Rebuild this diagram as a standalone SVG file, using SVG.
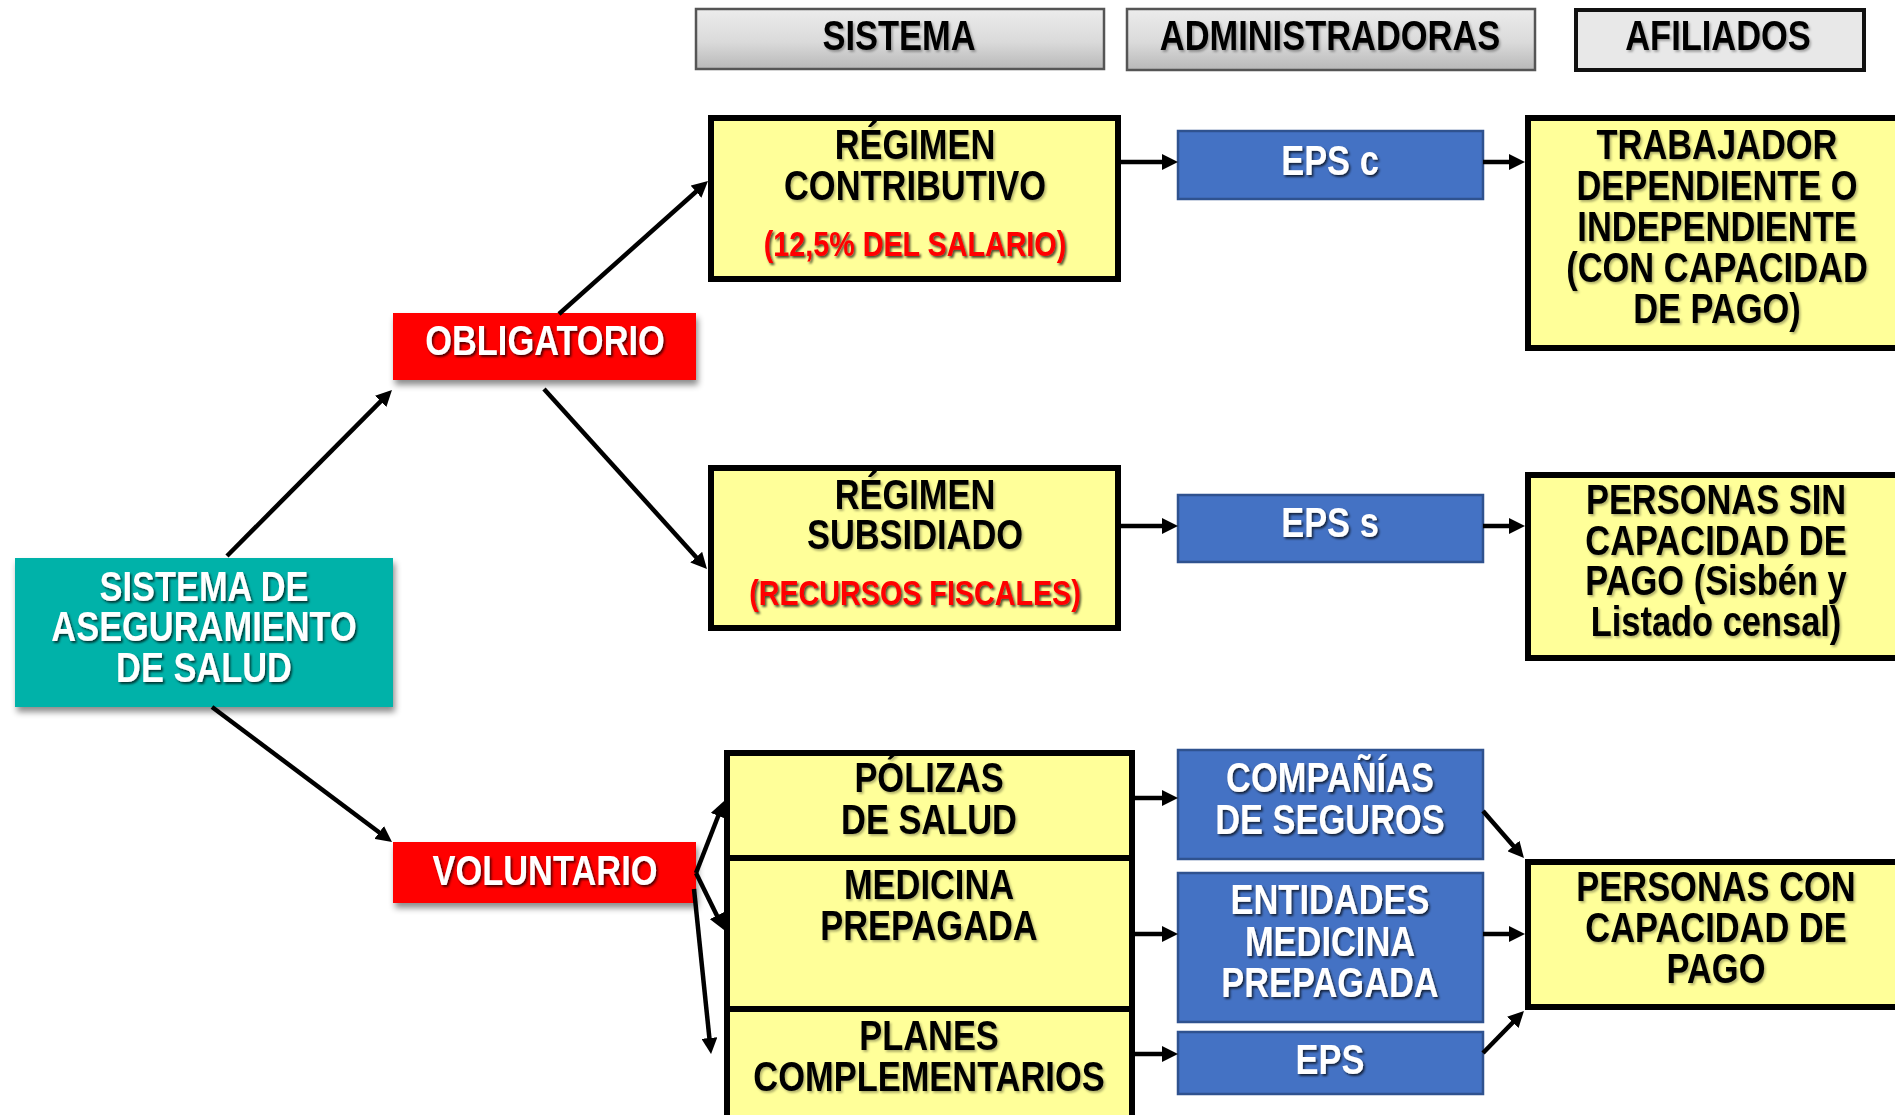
<svg xmlns="http://www.w3.org/2000/svg" width="1895" height="1115" viewBox="0 0 1895 1115">
<defs>
<linearGradient id="hdr" x1="0" y1="0" x2="0" y2="1">
<stop offset="0" stop-color="#ECECEC"/>
<stop offset="0.55" stop-color="#DADADA"/>
<stop offset="1" stop-color="#B8B8B8"/>
</linearGradient>
<filter id="boxsh" x="-10%" y="-10%" width="125%" height="140%">
<feDropShadow dx="2" dy="5" stdDeviation="3" flood-color="#000" flood-opacity="0.45"/>
</filter>
<filter id="tsw" x="-5%" y="-20%" width="115%" height="150%">
<feDropShadow dx="2" dy="2" stdDeviation="1.2" flood-color="#000" flood-opacity="0.7"/>
</filter>
<filter id="tsb" x="-5%" y="-20%" width="115%" height="150%">
<feDropShadow dx="2" dy="2" stdDeviation="1.2" flood-color="#000" flood-opacity="0.3"/>
</filter>
<marker id="ah" viewBox="0 0 16 16" refX="1" refY="8" markerWidth="16" markerHeight="16" markerUnits="userSpaceOnUse" orient="auto">
<path d="M0,0 L16,8 L0,16 z" fill="#000"/>
</marker>
</defs>
<style>
text{font-family:"Liberation Sans",Arial,sans-serif;font-weight:bold;text-anchor:middle;font-size:42px}
.b{fill:#000;filter:url(#tsb)}
.w{fill:#fff;filter:url(#tsw)}
.r{fill:#FF0000;font-size:35px;filter:url(#tsw)}
.hdr{fill:url(#hdr);stroke:#555;stroke-width:2.5}
.afi{fill:#E8E8E8;stroke:#111;stroke-width:4}
.yel{fill:#FFFF99;stroke:#000;stroke-width:6}
.blu{fill:#4472C4;stroke:#2F528F;stroke-width:2.5}
.red{fill:#FF0000;filter:url(#boxsh)}
.teal{fill:#00B2A9;filter:url(#boxsh)}
.con line{stroke:#000;stroke-width:4.5;marker-end:url(#ah)}
</style>
<rect width="1895" height="1115" fill="#fff"/>

<g id="h-sistema">
<rect class="hdr" x="696" y="9" width="408" height="60"/>
<text class="b" transform="matrix(0.82 0 0 1 899 0)"><tspan x="0" y="50">SISTEMA</tspan></text>
</g>
<g id="h-administradoras">
<rect class="hdr" x="1127" y="9" width="408" height="61"/>
<text class="b" transform="matrix(0.82 0 0 1 1330 0)"><tspan x="0" y="50">ADMINISTRADORAS</tspan></text>
</g>
<g id="h-afiliados">
<rect class="afi" x="1576" y="10" width="288" height="60"/>
<text class="b" transform="matrix(0.82 0 0 1 1718 0)"><tspan x="0" y="50">AFILIADOS</tspan></text>
</g>

<g id="n-sistema-aseguramiento">
<rect class="teal" x="15" y="558" width="378" height="149"/>
<text class="w" transform="matrix(0.82 0 0 1 204 0)"><tspan x="0" y="601">SISTEMA DE</tspan><tspan x="0" y="641">ASEGURAMIENTO</tspan><tspan x="0" y="682">DE SALUD</tspan></text>
</g>
<g id="n-obligatorio">
<rect class="red" x="393" y="313" width="303" height="67"/>
<text class="w" transform="matrix(0.82 0 0 1 545 0)"><tspan x="0" y="355">OBLIGATORIO</tspan></text>
</g>
<g id="n-voluntario">
<rect class="red" x="393" y="842" width="303" height="61"/>
<text class="w" transform="matrix(0.82 0 0 1 545 0)"><tspan x="0" y="885">VOLUNTARIO</tspan></text>
</g>

<g id="n-contributivo">
<rect class="yel" x="711" y="118" width="407" height="161"/>
<text class="b" transform="matrix(0.82 0 0 1 915 0)"><tspan x="0" y="159">RÉGIMEN</tspan><tspan x="0" y="200">CONTRIBUTIVO</tspan></text>
<text class="r" transform="matrix(0.82 0 0 1 915 0)"><tspan x="0" y="256">(12,5% DEL SALARIO)</tspan></text>
</g>
<g id="n-subsidiado">
<rect class="yel" x="711" y="468" width="407" height="160"/>
<text class="b" transform="matrix(0.82 0 0 1 915 0)"><tspan x="0" y="509">RÉGIMEN</tspan><tspan x="0" y="549">SUBSIDIADO</tspan></text>
<text class="r" transform="matrix(0.82 0 0 1 915 0)"><tspan x="0" y="605">(RECURSOS FISCALES)</tspan></text>
</g>
<g id="n-polizas">
<rect class="yel" x="727" y="753" width="405" height="105"/>
<text class="b" transform="matrix(0.82 0 0 1 929 0)"><tspan x="0" y="792">PÓLIZAS</tspan><tspan x="0" y="834">DE SALUD</tspan></text>
</g>
<g id="n-medicina">
<rect class="yel" x="727" y="858" width="405" height="151"/>
<text class="b" transform="matrix(0.82 0 0 1 929 0)"><tspan x="0" y="899">MEDICINA</tspan><tspan x="0" y="940">PREPAGADA</tspan></text>
</g>
<g id="n-planes">
<rect class="yel" x="727" y="1009" width="405" height="120"/>
<text class="b" transform="matrix(0.82 0 0 1 929 0)"><tspan x="0" y="1050">PLANES</tspan><tspan x="0" y="1091">COMPLEMENTARIOS</tspan></text>
</g>

<g id="n-eps-c">
<rect class="blu" x="1178" y="131" width="305" height="68"/>
<text class="w" transform="matrix(0.82 0 0 1 1330 0)"><tspan x="0" y="175">EPS c</tspan></text>
</g>
<g id="n-eps-s">
<rect class="blu" x="1178" y="495" width="305" height="67"/>
<text class="w" transform="matrix(0.82 0 0 1 1330 0)"><tspan x="0" y="537">EPS s</tspan></text>
</g>
<g id="n-companias">
<rect class="blu" x="1178" y="750" width="305" height="109"/>
<text class="w" transform="matrix(0.82 0 0 1 1330 0)"><tspan x="0" y="792">COMPAÑÍAS</tspan><tspan x="0" y="834">DE SEGUROS</tspan></text>
</g>
<g id="n-entidades">
<rect class="blu" x="1178" y="873" width="305" height="149"/>
<text class="w" transform="matrix(0.82 0 0 1 1330 0)"><tspan x="0" y="914">ENTIDADES</tspan><tspan x="0" y="956">MEDICINA</tspan><tspan x="0" y="997">PREPAGADA</tspan></text>
</g>
<g id="n-eps">
<rect class="blu" x="1178" y="1032" width="305" height="62"/>
<text class="w" transform="matrix(0.82 0 0 1 1330 0)"><tspan x="0" y="1074">EPS</tspan></text>
</g>

<g id="n-trabajador">
<rect class="yel" x="1528" y="118" width="400" height="230"/>
<text class="b" transform="matrix(0.82 0 0 1 1717 0)"><tspan x="0" y="159">TRABAJADOR</tspan><tspan x="0" y="200">DEPENDIENTE O</tspan><tspan x="0" y="241">INDEPENDIENTE</tspan><tspan x="0" y="282">(CON CAPACIDAD</tspan><tspan x="0" y="323">DE PAGO)</tspan></text>
</g>
<g id="n-sin-capacidad">
<rect class="yel" x="1528" y="475" width="400" height="183"/>
<text class="b" transform="matrix(0.82 0 0 1 1716 0)"><tspan x="0" y="514">PERSONAS SIN</tspan><tspan x="0" y="555">CAPACIDAD DE</tspan><tspan x="0" y="595">PAGO (Sisbén y</tspan><tspan x="0" y="636">Listado censal)</tspan></text>
</g>
<g id="n-con-capacidad">
<rect class="yel" x="1528" y="862" width="400" height="145"/>
<text class="b" transform="matrix(0.82 0 0 1 1716 0)"><tspan x="0" y="901">PERSONAS CON</tspan><tspan x="0" y="942">CAPACIDAD DE</tspan><tspan x="0" y="983">PAGO</tspan></text>
</g>

<g id="connectors" class="con">
<line x1="227" y1="556" x2="381.4" y2="400.6"/>
<line x1="559" y1="314" x2="696.8" y2="191"/>
<line x1="544" y1="389" x2="696.9" y2="557.9"/>
<line x1="212" y1="707" x2="380" y2="833"/>
<line x1="696" y1="873" x2="718.6" y2="815"/>
<line x1="696" y1="873" x2="717.4" y2="916.5"/>
<line x1="694" y1="889" x2="709.5" y2="1039"/>
<line x1="1121" y1="162" x2="1163" y2="162"/>
<line x1="1483" y1="162" x2="1510" y2="162"/>
<line x1="1121" y1="526" x2="1163" y2="526"/>
<line x1="1483" y1="526" x2="1510" y2="526"/>
<line x1="1135" y1="798" x2="1163" y2="798"/>
<line x1="1135" y1="934" x2="1163" y2="934"/>
<line x1="1135" y1="1054" x2="1163" y2="1054"/>
<line x1="1483" y1="811" x2="1514.1" y2="846.7"/>
<line x1="1483" y1="934" x2="1510" y2="934"/>
<line x1="1483" y1="1053" x2="1513.5" y2="1021.7"/>
</g>
</svg>
